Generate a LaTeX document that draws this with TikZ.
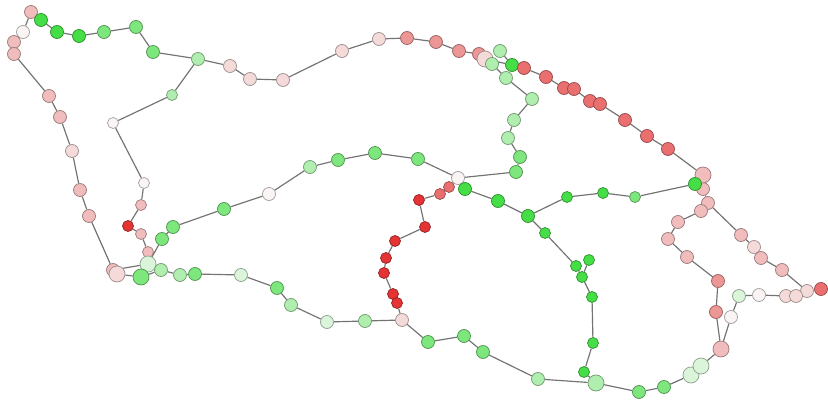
\documentclass[tikz,border=0pt]{standalone}
\usepackage{tikz}
\usetikzlibrary{backgrounds}

\definecolor{gA}{RGB}{70, 222, 70}
\definecolor{gB}{RGB}{125, 230, 125}
\definecolor{gC}{RGB}{175, 238, 175}
\definecolor{gD}{RGB}{218, 245, 218}
\definecolor{wN}{RGB}{250, 244, 244}
\definecolor{pA}{RGB}{245, 218, 218}
\definecolor{pB}{RGB}{240, 188, 188}
\definecolor{pC}{RGB}{236, 150, 150}
\definecolor{rA}{RGB}{234, 112, 112}
\definecolor{rB}{RGB}{228, 52, 52}

\tikzset{
  dot/.style={circle, draw=#1!65!black, fill=#1, line width=0.6pt, inner sep=0pt, minimum size=0.39cm},
  sdot/.style={dot=#1, minimum size=0.33cm},
  ldot/.style={dot=#1, minimum size=0.48cm},
  link/.style={draw=black!55, line width=1pt}
}

\begin{document}
\begin{tikzpicture}[x=0.03cm, y=-0.03cm]
  \useasboundingbox (0,0) rectangle (828,402);

  % outer ring, top
  \foreach \n/\x/\y/\c in {a1/31/12/pB, a2/41/20/gA, a3/57/32/gA, a4/79/36/gA, a5/104/32/gB,
      a6/136/27/gB, a7/153/52/gB, a8/198/59/gC, a9/230/66/pA, a10/250/79/pA, a11/283/80/pA,
      a12/342/51/pA, a13/379/39/pA, a14/407/38/pC, a15/436/42/pC, a16/459/51/pC, a17/479/54/pC,
      a19/512/65/gA, a20/524/68/rA, a21/546/77/rA, a22/564/88/rA, a23/574/89/rA, a24/590/101/rA,
      a25/600/104/rA, a26/625/120/rA, a27/647/136/rA, a28/668/149/rA, a30/703/189/pB, a31/708/203/pB}
    \node[dot=\c] (\n) at (\x,\y) {};
  \node[ldot=pA] (a18) at (485,59) {};
  \node[ldot=pB] (a29) at (703,175) {};

  % right tail
  \foreach \n/\x/\y/\c in {b1/741/235/pB, b2/754/247/pA, b3/761/258/pB, b4/782/270/pB,
      b5/807/291/pA, b6/821/289/rA, q1/731/317/wN, q2/739/296/gD, q3/759/295/wN,
      q4/786/296/pA, q5/796/296/pA}
    \node[dot=\c] (\n) at (\x,\y) {};

  % left side
  \foreach \n/\x/\y/\c in {c1/23/32/wN, c2/14/42/pB, c3/14/54/pB, c4/49/96/pB, c5/60/117/pB,
      c6/72/151/pA, c7/80/190/pB, c8/89/216/pB, c9/113/270/pB}
    \node[dot=\c] (\n) at (\x,\y) {};
  \node[ldot=pA] (c10) at (117,274) {};

  % inner branch
  \foreach \n/\x/\y/\c in {d1/172/95/gC, d2/113/123/wN, d3/144/183/wN, d4/141/205/pB,
      d5/128/226/rB, d6/141/234/pB, d7/148/252/pB}
    \node[sdot=\c] (\n) at (\x,\y) {};
  \node[ldot=gD] (d8) at (148,264) {};

  \foreach \n/\x/\y/\c in {e1/162/239/gB, e2/173/227/gB, e3/224/209/gB, e4/269/194/wN,
      e5/310/167/gC, e6/338/160/gB, e7/375/153/gB, e8/418/159/gB, e9/458/178/wN}
    \node[dot=\c] (\n) at (\x,\y) {};

  \node[ldot=gB] (f1) at (141,277) {};
  \foreach \n/\x/\y/\c in {f2/161/270/gC, f3/180/275/gC, f4/195/274/gB, f5/241/275/gD,
      f6/277/288/gB, f7/291/305/gC, f8/327/322/gD, f9/365/321/gC, f10/402/320/pA}
    \node[dot=\c] (\n) at (\x,\y) {};

  % red chain
  \foreach \n/\x/\y/\c in {r1/449/187/rA, r2/440/194/rA, r3/419/200/rB, r4/425/227/rB,
      r5/395/241/rB, r6/386/258/rB, r7/384/273/rB, r8/393/294/rB, r9/397/303/rB}
    \node[sdot=\c] (\n) at (\x,\y) {};

  % bottom arc
  \foreach \n/\x/\y/\c in {h1/428/342/gB, h2/464/336/gB, h3/483/352/gB, h4/538/379/gC,
      h6/639/392/gB, h7/664/387/gB}
    \node[dot=\c] (\n) at (\x,\y) {};
  \node[ldot=gC] (h5) at (596,383) {};
  \node[ldot=gD] (h8) at (691,375) {};
  \node[ldot=gD] (h9) at (701,366) {};
  \node[ldot=pB] (h10) at (721,349) {};

  % green branches
  \foreach \n/\x/\y/\c in {k1/465/189/gA, k2/498/201/gA, k3/528/216/gA, m4/695/184/gA}
    \node[dot=\c] (\n) at (\x,\y) {};
  \foreach \n/\x/\y/\c in {k4/545/233/gA, k5/576/266/gA, k6/589/260/gA, k7/582/277/gA,
      k8/592/297/gA, k9/593/343/gA, k10/584/372/gA, m1/567/197/gA, m2/603/193/gA, m3/635/197/gB}
    \node[sdot=\c] (\n) at (\x,\y) {};
  \foreach \n/\x/\y/\c in {u1/500/51/gC, u2/492/64/gC, u3/506/78/gC, u4/532/99/gC,
      u5/514/120/gC, u6/508/138/gC, u7/520/157/gB, u8/516/172/gB}
    \node[dot=\c] (\n) at (\x,\y) {};

  % right pink loop
  \foreach \n/\x/\y/\c in {p1/701/211/pB, p2/678/222/pB, p3/668/239/pB, p4/687/257/pB,
      p5/718/281/pC, p6/716/312/pC}
    \node[dot=\c] (\n) at (\x,\y) {};

  % links
  \begin{scope}[on background layer]
    \draw[link] (a1) -- (a2) -- (a3) -- (a4) -- (a5) -- (a6) -- (a7) -- (a8) -- (a9) -- (a10)
      -- (a11) -- (a12) -- (a13) -- (a14) -- (a15) -- (a16) -- (a17) -- (a18) -- (a19) -- (a20)
      -- (a21) -- (a22) -- (a23) -- (a24) -- (a25) -- (a26) -- (a27) -- (a28) -- (a29) -- (a30)
      -- (a31);
    \draw[link] (a31) -- (b1) -- (b2) -- (b3) -- (b4) -- (b5) -- (b6);
    \draw[link] (b5) -- (q5) -- (q4) -- (q3) -- (q2) -- (q1) -- (h10);
    \draw[link] (a31) -- (p1) -- (p2) -- (p3) -- (p4) -- (p5) -- (p6) -- (h10);
    \draw[link] (a1) -- (c1) -- (c2) -- (c3) -- (c4) -- (c5) -- (c6) -- (c7) -- (c8) -- (c9);
    \draw[link] (c9) -- (d8);
    \draw[link] (c10) -- (f1);
    \draw[link] (a8) -- (d1) -- (d2) -- (d3) -- (d4) -- (d5) -- (d6) -- (d7) -- (d8);
    \draw[link] (d8) -- (e1) -- (e2) -- (e3) -- (e4) -- (e5) -- (e6) -- (e7) -- (e8) -- (e9);
    \draw[link] (f1) -- (f2) -- (f3) -- (f4) -- (f5) -- (f6) -- (f7) -- (f8) -- (f9) -- (f10);
    \draw[link] (e9) -- (r1) -- (r2) -- (r3) -- (r4) -- (r5) -- (r6) -- (r7) -- (r8) -- (r9)
      -- (f10);
    \draw[link] (f10) -- (h1) -- (h2) -- (h3) -- (h4) -- (h5) -- (h6) -- (h7) -- (h8) -- (h9)
      -- (h10);
    \draw[link] (e9) -- (k1) -- (k2) -- (k3) -- (k4) -- (k5) -- (k7) -- (k8) -- (k9) -- (k10)
      -- (h5);
    \draw[link] (k6) -- (k7);
    \draw[link] (k3) -- (m1) -- (m2) -- (m3) -- (m4) -- (a30);
    \draw[link] (e9) -- (u8) -- (u7) -- (u6) -- (u5) -- (u4) -- (u3) -- (u2) -- (a18);
    \draw[link] (u1) -- (a19);
  \end{scope}
\end{tikzpicture}
\end{document}
